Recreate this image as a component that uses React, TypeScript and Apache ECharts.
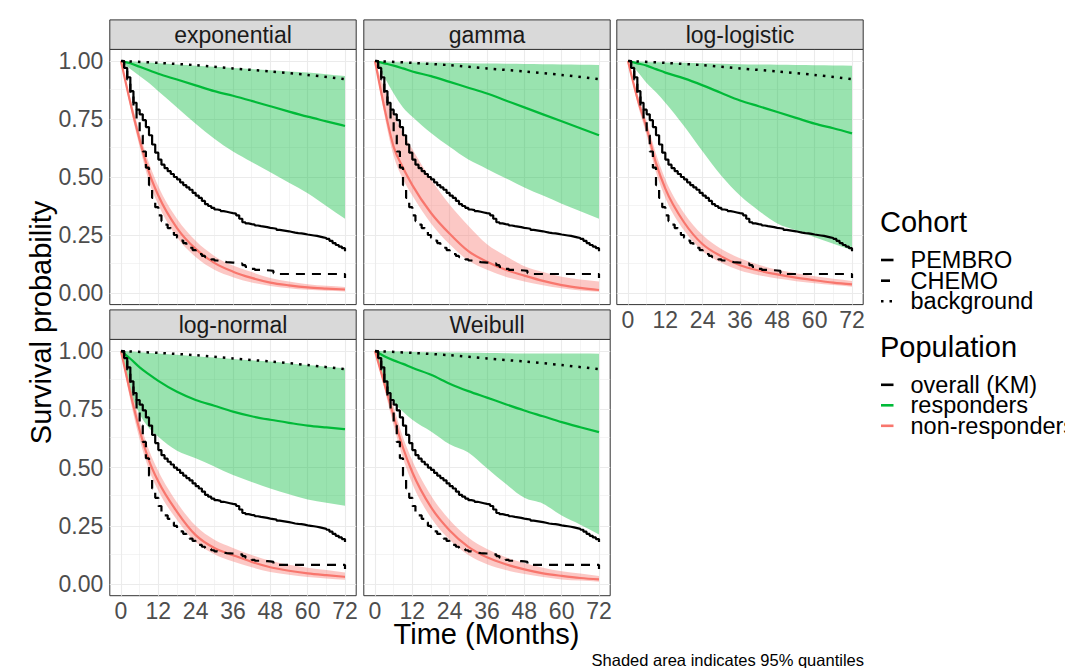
import React, { useEffect, useRef } from "react";
import * as echarts from "echarts";

// ---------------- data ----------------
const panelNames = ["exponential", "gamma", "log-logistic", "log-normal", "Weibull"];
const xTicks = [0, 12, 24, 36, 48, 60, 72];
const xMinor = [6, 18, 30, 42, 54, 66];
const yTicks = [0, 0.25, 0.5, 0.75, 1];
const yMinor = [0.125, 0.375, 0.625, 0.875];

// Kaplan-Meier (monthly)
const kmTimes = [0, 1, 2, 3, 4, 5, 6, 7, 8, 9, 10, 11, 12, 13, 14, 15, 16, 17, 18, 19, 20, 21, 22, 23, 24, 25, 26, 27, 28, 29, 30, 31, 32, 33, 34, 35, 36, 37, 38, 39, 40, 41, 42, 43, 44, 45, 46, 47, 48, 49, 50, 51, 52, 53, 54, 55, 56, 57, 58, 59, 60, 61, 62, 63, 64, 65, 66, 67, 68, 69, 70, 71, 72];
const pembroKM = [1, 0.97, 0.93, 0.87, 0.82, 0.79, 0.77, 0.745, 0.715, 0.68, 0.64, 0.605, 0.575, 0.553, 0.538, 0.525, 0.513, 0.5, 0.49, 0.477, 0.465, 0.455, 0.445, 0.432, 0.42, 0.41, 0.397, 0.383, 0.375, 0.367, 0.36, 0.357, 0.353, 0.35, 0.347, 0.344, 0.342, 0.335, 0.32, 0.305, 0.3, 0.297, 0.295, 0.291, 0.288, 0.286, 0.284, 0.281, 0.279, 0.277, 0.272, 0.27, 0.268, 0.266, 0.263, 0.26, 0.258, 0.257, 0.255, 0.252, 0.25, 0.248, 0.246, 0.243, 0.24, 0.237, 0.233, 0.225, 0.215, 0.207, 0.2, 0.193, 0.18];
const chemoKM = [1, 0.97, 0.92, 0.86, 0.8, 0.74, 0.68, 0.61, 0.54, 0.465, 0.41, 0.37, 0.335, 0.31, 0.295, 0.28, 0.265, 0.25, 0.238, 0.226, 0.215, 0.205, 0.195, 0.185, 0.176, 0.168, 0.16, 0.155, 0.15, 0.145, 0.14, 0.137, 0.135, 0.133, 0.132, 0.131, 0.13, 0.128, 0.127, 0.12, 0.113, 0.108, 0.104, 0.1, 0.1, 0.099, 0.098, 0.097, 0.095, 0.086, 0.082, 0.082, 0.082, 0.082, 0.082, 0.082, 0.082, 0.082, 0.082, 0.082, 0.082, 0.082, 0.082, 0.082, 0.082, 0.082, 0.082, 0.082, 0.082, 0.082, 0.082, 0.082, 0.065];

// background survival
const bgTimes = [0, 12, 24, 36, 48, 60, 72];
const bgSurv = [1, 0.992, 0.982, 0.968, 0.955, 0.94, 0.922];

// fitted curves
const fitTimes = [0, 3, 6, 9, 12, 18, 24, 30, 36, 42, 48, 54, 60, 66, 72];

const expRespMid = [1, 0.99, 0.975, 0.96, 0.945, 0.92, 0.895, 0.87, 0.85, 0.828, 0.805, 0.782, 0.76, 0.74, 0.72];
const expRespLo = [1, 0.965, 0.935, 0.905, 0.87, 0.8, 0.73, 0.665, 0.61, 0.565, 0.52, 0.475, 0.43, 0.375, 0.32];
const expRespHi = [1, 0.998, 0.995, 0.993, 0.99, 0.985, 0.98, 0.975, 0.97, 0.965, 0.96, 0.955, 0.95, 0.943, 0.935];
const expNonMid = [1, 0.82, 0.66, 0.52, 0.42, 0.28, 0.19, 0.13, 0.092, 0.065, 0.045, 0.033, 0.024, 0.019, 0.015];
const expNonLo = [1, 0.8, 0.63, 0.48, 0.38, 0.24, 0.155, 0.1, 0.068, 0.045, 0.03, 0.021, 0.014, 0.01, 0.007];
const expNonHi = [1, 0.84, 0.69, 0.56, 0.46, 0.32, 0.225, 0.16, 0.118, 0.09, 0.065, 0.05, 0.038, 0.031, 0.026];

const gamRespMid = [1, 0.99, 0.98, 0.968, 0.955, 0.935, 0.91, 0.885, 0.86, 0.83, 0.8, 0.77, 0.74, 0.71, 0.68];
const gamRespLo = [1, 0.93, 0.86, 0.8, 0.76, 0.69, 0.63, 0.575, 0.535, 0.495, 0.455, 0.42, 0.385, 0.352, 0.32];
const gamRespHi = [1, 0.998, 0.996, 0.995, 0.994, 0.993, 0.992, 0.99, 0.989, 0.988, 0.987, 0.986, 0.985, 0.984, 0.983];
const gamNonMid = [1, 0.8, 0.63, 0.54, 0.465, 0.345, 0.255, 0.18, 0.135, 0.1, 0.075, 0.052, 0.034, 0.022, 0.013];
const gamNonLo = [1, 0.77, 0.59, 0.49, 0.42, 0.3, 0.21, 0.14, 0.1, 0.07, 0.05, 0.033, 0.02, 0.011, 0.005];
const gamNonHi = [1, 0.88, 0.77, 0.69, 0.62, 0.49, 0.38, 0.29, 0.21, 0.16, 0.115, 0.09, 0.07, 0.058, 0.05];

const llRespMid = [1, 0.99, 0.98, 0.965, 0.95, 0.925, 0.895, 0.862, 0.83, 0.805, 0.78, 0.755, 0.73, 0.71, 0.688];
const llRespLo = [1, 0.955, 0.905, 0.865, 0.82, 0.72, 0.61, 0.505, 0.42, 0.355, 0.3, 0.27, 0.24, 0.212, 0.185];
const llRespHi = [1, 0.998, 0.996, 0.995, 0.994, 0.992, 0.99, 0.988, 0.986, 0.985, 0.984, 0.983, 0.982, 0.981, 0.98];
const llNonMid = [1, 0.84, 0.71, 0.56, 0.45, 0.305, 0.21, 0.158, 0.12, 0.097, 0.08, 0.066, 0.055, 0.045, 0.037];
const llNonLo = [1, 0.82, 0.68, 0.52, 0.41, 0.27, 0.18, 0.13, 0.097, 0.077, 0.062, 0.051, 0.042, 0.034, 0.027];
const llNonHi = [1, 0.86, 0.74, 0.6, 0.49, 0.345, 0.25, 0.19, 0.15, 0.122, 0.1, 0.085, 0.072, 0.061, 0.052];

const lnRespMid = [1, 0.967, 0.93, 0.9, 0.872, 0.825, 0.79, 0.765, 0.74, 0.72, 0.705, 0.692, 0.68, 0.672, 0.665];
const lnRespLo = [1, 0.83, 0.73, 0.67, 0.632, 0.572, 0.54, 0.505, 0.468, 0.438, 0.41, 0.385, 0.363, 0.349, 0.336];
const lnRespHi = [1, 0.998, 0.995, 0.992, 0.99, 0.984, 0.978, 0.972, 0.966, 0.96, 0.955, 0.948, 0.94, 0.933, 0.926];
const lnNonMid = [1, 0.82, 0.66, 0.53, 0.44, 0.31, 0.21, 0.155, 0.124, 0.095, 0.072, 0.057, 0.046, 0.038, 0.031];
const lnNonLo = [1, 0.79, 0.62, 0.49, 0.4, 0.275, 0.18, 0.128, 0.097, 0.072, 0.052, 0.04, 0.03, 0.024, 0.018];
const lnNonHi = [1, 0.85, 0.7, 0.575, 0.485, 0.35, 0.25, 0.19, 0.155, 0.125, 0.1, 0.083, 0.07, 0.06, 0.05];

const wbRespMid = [1, 0.978, 0.96, 0.945, 0.928, 0.898, 0.86, 0.828, 0.8, 0.772, 0.745, 0.72, 0.695, 0.673, 0.652];
const wbRespLo = [1, 0.86, 0.78, 0.74, 0.705, 0.655, 0.6, 0.565, 0.497, 0.43, 0.37, 0.345, 0.294, 0.255, 0.213];
const wbRespHi = [1, 0.999, 0.998, 0.997, 0.996, 0.995, 0.994, 0.993, 0.992, 0.991, 0.99, 0.99, 0.99, 0.989, 0.988];
const wbNonMid = [1, 0.86, 0.72, 0.585, 0.48, 0.33, 0.23, 0.16, 0.115, 0.085, 0.063, 0.046, 0.035, 0.026, 0.02];
const wbNonLo = [1, 0.84, 0.68, 0.54, 0.43, 0.285, 0.19, 0.125, 0.085, 0.06, 0.043, 0.03, 0.02, 0.015, 0.01];
const wbNonHi = [1, 0.88, 0.76, 0.63, 0.53, 0.38, 0.275, 0.2, 0.15, 0.115, 0.09, 0.07, 0.055, 0.045, 0.035];

const cohortLabels = ["PEMBRO", "CHEMO", "background"];
const populationLabels = ["overall (KM)", "responders", "non-responders"];

// ---------------- styling / layout ----------------
const FONT = "'Liberation Sans', Arial, Helvetica, sans-serif";
const GREEN = "#00BA38";
const RED = "#F8766D";
const GREEN_FILL = "rgba(0,186,56,0.4)";
const RED_FILL = "rgba(248,118,109,0.4)";
const COLS = [109.8, 363.8, 616.8];
const ROWS = [49.4, 339.4];
const PW = 246.4;
const PH = [255.2, 256.3];
const STRIP_H = 29.5;
const LAYOUT = [[0, 0], [0, 1], [0, 2], [1, 0], [1, 1]];
const SHOW_X = [false, false, true, true, true];
const SHOW_Y = [true, false, false, true, false];
const DASH = [9, 7];
const DOT = [2.5, 6];

const fits = [
  [expRespMid, expRespLo, expRespHi, expNonMid, expNonLo, expNonHi],
  [gamRespMid, gamRespLo, gamRespHi, gamNonMid, gamNonLo, gamNonHi],
  [llRespMid, llRespLo, llRespHi, llNonMid, llNonLo, llNonHi],
  [lnRespMid, lnRespLo, lnRespHi, lnNonMid, lnNonLo, lnNonHi],
  [wbRespMid, wbRespLo, wbRespHi, wbNonMid, wbNonLo, wbNonHi],
];

const pairs = (ts: number[], vs: number[]) => ts.map((t, k) => [t, vs[k]]);

// monotone cubic (in x) bezier segments through pixel points
function monoSegments(pts: number[][]) {
  const n = pts.length;
  const tg: number[] = new Array(n).fill(0);
  for (let i = 1; i < n - 1; i++) {
    const h0 = pts[i][0] - pts[i - 1][0];
    const h1 = pts[i + 1][0] - pts[i][0];
    const s0 = (pts[i][1] - pts[i - 1][1]) / h0;
    const s1 = (pts[i + 1][1] - pts[i][1]) / h1;
    const p = (s0 * h1 + s1 * h0) / (h0 + h1);
    tg[i] = (Math.sign(s0) + Math.sign(s1)) * Math.min(Math.abs(s0), Math.abs(s1), 0.5 * Math.abs(p)) || 0;
  }
  if (n > 1) {
    const h = pts[1][0] - pts[0][0];
    tg[0] = h ? (3 * (pts[1][1] - pts[0][1]) / h - tg[1]) / 2 : tg[1];
    const hl = pts[n - 1][0] - pts[n - 2][0];
    tg[n - 1] = hl ? (3 * (pts[n - 1][1] - pts[n - 2][1]) / hl - tg[n - 2]) / 2 : tg[n - 2];
  }
  const segs: { s: number[]; c1: number[]; c2: number[]; e: number[] }[] = [];
  for (let i = 0; i < n - 1; i++) {
    const a = pts[i];
    const b = pts[i + 1];
    const dx = (b[0] - a[0]) / 3;
    segs.push({ s: a, c1: [a[0] + dx, a[1] + dx * tg[i]], c2: [b[0] - dx, b[1] - dx * tg[i + 1]], e: b });
  }
  return segs;
}
const f = (v: number) => v.toFixed(2);
const cStr = (c1: number[], c2: number[], e: number[]) => `C${f(c1[0])},${f(c1[1])} ${f(c2[0])},${f(c2[1])} ${f(e[0])},${f(e[1])}`;

function linePath(pts: number[][]) {
  const segs = monoSegments(pts);
  return `M${f(pts[0][0])},${f(pts[0][1])}` + segs.map((s) => cStr(s.c1, s.c2, s.e)).join("");
}
function bandPath(upper: number[][], lower: number[][]) {
  const su = monoSegments(upper);
  const sl = monoSegments(lower);
  let d = `M${f(upper[0][0])},${f(upper[0][1])}` + su.map((s) => cStr(s.c1, s.c2, s.e)).join("");
  const last = lower[lower.length - 1];
  d += `L${f(last[0])},${f(last[1])}`;
  for (let i = sl.length - 1; i >= 0; i--) d += cStr(sl[i].c2, sl[i].c1, sl[i].s);
  return d + "Z";
}

function buildOption() {
  const grid: any[] = [];
  const xAxis: any[] = [];
  const yAxis: any[] = [];
  const series: any[] = [];
  const graphic: any[] = [];

  for (let i = 0; i < 5; i++) {
    const [r, c] = LAYOUT[i];
    const left = COLS[c];
    const top = ROWS[r];
    const h = PH[r];
    grid.push({
      left, top, width: PW, height: h, show: true,
      borderColor: "#333333", borderWidth: 1, backgroundColor: "#ffffff",
    });
    xAxis.push({
      type: "value", gridIndex: i, min: -3.6, max: 75.6,
      axisLine: { show: false }, splitLine: { show: false },
      axisTick: { show: SHOW_X[i], customValues: xTicks, length: 3.5, lineStyle: { color: "#333333", width: 1 } },
      axisLabel: { show: SHOW_X[i], customValues: xTicks, fontSize: 23, color: "#4d4d4d", fontFamily: FONT, margin: 3.5 },
    });
    yAxis.push({
      type: "value", gridIndex: i, min: -0.05, max: 1.05,
      axisLine: { show: false }, splitLine: { show: false },
      axisTick: { show: SHOW_Y[i], customValues: yTicks, length: 4.5, lineStyle: { color: "#333333", width: 1 } },
      axisLabel: {
        show: SHOW_Y[i], customValues: yTicks, fontSize: 23, color: "#4d4d4d", fontFamily: FONT, margin: 6.5,
        formatter: (v: number) => v.toFixed(2),
      },
    });

    const gl = (key: string, v: number, minor: boolean) => ({
      [key]: v,
      lineStyle: { color: "#ebebeb", width: minor ? 0.55 : 1.1, type: "solid" },
    });
    series.push({
      type: "line", xAxisIndex: i, yAxisIndex: i, data: [], silent: true,
      markLine: {
        silent: true, symbol: ["none", "none"], label: { show: false }, animation: false,
        emphasis: { disabled: true },
        data: [
          ...xMinor.map((v) => gl("xAxis", v, true)),
          ...yMinor.map((v) => gl("yAxis", v, true)),
          ...xTicks.map((v) => gl("xAxis", v, false)),
          ...yTicks.map((v) => gl("yAxis", v, false)),
        ],
      },
    });

    const [rMid, rLo, rHi, nMid, nLo, nHi] = fits[i];
    const band = (lo: number[], hi: number[], fill: string) => ({
      type: "custom", xAxisIndex: i, yAxisIndex: i, data: [0], silent: true, z: 6,
      renderItem: (_p: any, api: any) => {
        const up = fitTimes.map((t, k) => api.coord([t, hi[k]]));
        const dn = fitTimes.map((t, k) => api.coord([t, lo[k]]));
        return { type: "path", shape: { pathData: bandPath(up, dn) }, style: { fill, stroke: null } };
      },
    });
    series.push(band(rLo, rHi, GREEN_FILL));
    series.push(band(nLo, nHi, RED_FILL));

    const fitLine = (vals: number[], color: string) => ({
      type: "custom", xAxisIndex: i, yAxisIndex: i, data: [0], silent: true, z: 7,
      renderItem: (_p: any, api: any) => {
        const pts = fitTimes.map((t, k) => api.coord([t, vals[k]]));
        return { type: "path", shape: { pathData: linePath(pts) }, style: { fill: null, stroke: color, lineWidth: 2.2 } };
      },
    });
    series.push(fitLine(rMid, GREEN));
    series.push(fitLine(nMid, RED));

    series.push({
      type: "line", xAxisIndex: i, yAxisIndex: i, data: pairs(bgTimes, bgSurv),
      showSymbol: false, symbol: "none", smooth: 0.3,
      lineStyle: { color: "#000000", width: 2.5, type: DOT, cap: "butt" }, z: 8, silent: true,
    });
    series.push({
      type: "line", xAxisIndex: i, yAxisIndex: i, data: pairs(kmTimes, pembroKM), step: "end",
      showSymbol: false, symbol: "none",
      lineStyle: { color: "#000000", width: 2.2 }, z: 8, silent: true,
    });
    series.push({
      type: "line", xAxisIndex: i, yAxisIndex: i, data: pairs(kmTimes, chemoKM), step: "end",
      showSymbol: false, symbol: "none",
      lineStyle: { color: "#000000", width: 2.2, type: DASH, cap: "butt" }, z: 8, silent: true,
    });

    // facet strip
    graphic.push({
      type: "rect", silent: true, z: 10,
      shape: { x: left, y: top - STRIP_H, width: PW, height: STRIP_H },
      style: { fill: "#d9d9d9", stroke: "#333333", lineWidth: 1 },
    });
    graphic.push({
      type: "text", silent: true, z: 11, x: left + PW / 2, y: top - STRIP_H / 2,
      style: { text: panelNames[i], fontSize: 23, fontFamily: FONT, fill: "#1a1a1a", align: "center", verticalAlign: "middle" },
    });
  }

  // axis titles & caption
  graphic.push({
    type: "text", silent: true, x: 41, y: 322.5, rotation: Math.PI / 2,
    style: { text: "Survival probability", fontSize: 29, fontFamily: FONT, fill: "#000000", align: "center", verticalAlign: "middle" },
  });
  graphic.push({
    type: "text", silent: true, x: 486.5, y: 634,
    style: { text: "Time (Months)", fontSize: 29, fontFamily: FONT, fill: "#000000", align: "center", verticalAlign: "middle" },
  });
  graphic.push({
    type: "text", silent: true, x: 864, y: 660,
    style: { text: "Shaded area indicates 95% quantiles", fontSize: 16.5, fontFamily: FONT, fill: "#000000", align: "right", verticalAlign: "middle" },
  });

  // legend
  const legTitle = (text: string, y: number) => ({
    type: "text", silent: true, x: 880, y,
    style: { text, fontSize: 29, fontFamily: FONT, fill: "#000000", align: "left", verticalAlign: "middle" },
  });
  const legItem = (text: string, y: number, color: string, dash: any) => [
    {
      type: "line", silent: true,
      shape: { x1: 881, y1: y, x2: 893.5, y2: y },
      style: { stroke: color, lineWidth: 2.6, lineDash: dash, lineCap: "butt" },
    },
    {
      type: "text", silent: true, x: 910.5, y,
      style: { text, fontSize: 23.5, fontFamily: FONT, fill: "#000000", align: "left", verticalAlign: "middle" },
    },
  ];
  graphic.push(legTitle("Cohort", 222));
  graphic.push(...legItem(cohortLabels[0], 260, "#000000", null));
  graphic.push(...legItem(cohortLabels[1], 280.7, "#000000", DASH));
  graphic.push(...legItem(cohortLabels[2], 301.3, "#000000", DOT));
  graphic.push(legTitle("Population", 346.5));
  graphic.push(...legItem(populationLabels[0], 384.8, "#000000", null));
  graphic.push(...legItem(populationLabels[1], 405.3, GREEN, null));
  graphic.push(...legItem(populationLabels[2], 425.8, RED, null));

  return {
    animation: false,
    backgroundColor: "#ffffff",
    textStyle: { fontFamily: FONT },
    grid, xAxis, yAxis, series, graphic,
  };
}

export default function App() {
  const ref = useRef<HTMLDivElement>(null);
  useEffect(() => {
    document.body.style.margin = "0";
    const chart = echarts.init(ref.current as HTMLDivElement, null, { renderer: "svg" });
    chart.setOption(buildOption() as any);
    return () => chart.dispose();
  }, []);
  return <div ref={ref} style={{ width: 1065, height: 668, background: "#ffffff" }} />;
}
